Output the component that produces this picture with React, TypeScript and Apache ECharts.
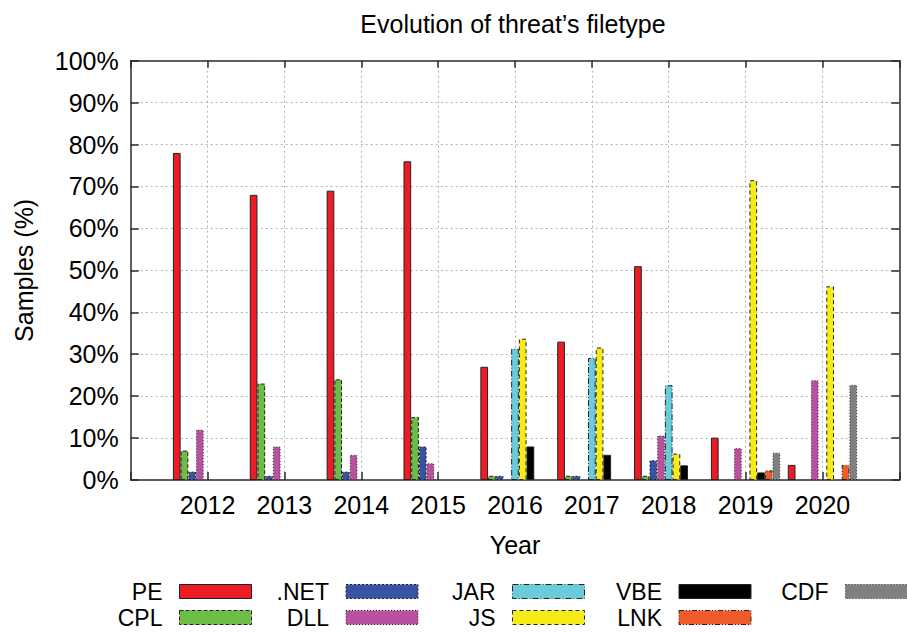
import React, { useEffect, useRef } from "react";
import * as echarts from "echarts";

const years = [2012, 2013, 2014, 2015, 2016, 2017, 2018, 2019, 2020];
const seriesNames = ["PE", "CPL", ".NET", "DLL", "JAR", "JS", "VBE", "LNK", "CDF"];
const PE = [78, 68, 69, 76, 27, 33, 51, 10.1, 3.6];
const CPL = [7, 23, 24, 15, 1, 1, 1, 0, 0];
const NET = [2, 1, 2, 8, 1, 1, 4.7, 0, 0];
const DLL = [12, 8, 6, 4, 0, 0, 10.6, 7.6, 23.8];
const JAR = [0, 0, 0, 0, 31.3, 29.1, 22.6, 0, 0];
const JS = [0, 0, 0, 0, 33.7, 31.6, 6.3, 71.5, 46.2];
const VBE = [0, 0, 0, 0, 8, 6, 3.5, 1.8, 0];
const LNK = [0, 0, 0, 0, 0, 0, 0, 2.3, 3.6];
const CDF = [0, 0, 0, 0, 0, 0, 0, 6.5, 22.7];
const yTicks = [0, 10, 20, 30, 40, 50, 60, 70, 80, 90, 100];

const values = [PE, CPL, NET, DLL, JAR, JS, VBE, LNK, CDF];
const colors = ["#ed1c24", "#6cbd45", "#3853a4", "#b8519f", "#6acbdb", "#f4eb18", "#000000", "#f15a29", "#808080"];
const borderTypes: any[] = ["solid", [4, 2], [2, 2], [1, 2], [6, 2, 1, 2], [4, 3], "solid", [5, 2, 1, 2, 1, 2], [1, 2]];
const legendCol = [0, 0, 1, 1, 2, 2, 3, 3, 4];
const legendRow = [0, 1, 0, 1, 0, 1, 0, 1, 0];

const FONT = "Liberation Sans";

export default function App() {
  const ref = useRef<HTMLDivElement>(null);
  useEffect(() => {
    document.body.style.margin = "0";
    const chart = echarts.init(ref.current!, null, { renderer: "svg" });
    const frameColor = "#2a2a2a";
    const gridLine = { show: true, lineStyle: { color: "#b4b4b4", type: [2, 3] as any, width: 1 }, showMinLine: false, showMaxLine: false };
    const W = 907;
    const swatchRight0 = 252;
    const colStep = 166.5;
    const legends = seriesNames.map((name, i) => ({
      orient: "horizontal",
      align: "right",
      right: W - (swatchRight0 + legendCol[i] * colStep),
      top: legendRow[i] === 0 ? 580 : 606,
      padding: 0,
      itemWidth: 72,
      itemHeight: 14,
      selectedMode: false,
      textStyle: { fontFamily: FONT, fontSize: 23, lineHeight: 23, color: "#000", padding: [0, 12, 0, 0] },
      data: [
        {
          name,
          icon: "rect",
          itemStyle: { color: colors[i], borderColor: "#222", borderWidth: 1, borderType: borderTypes[i] },
        },
      ],
    }));
    const option: any = {
      animation: false,
      backgroundColor: "#fff",
      title: {
        text: "Evolution of threat\u2019s filetype",
        left: 508,
        textAlign: "center",
        top: 6,
        textStyle: { fontFamily: FONT, fontSize: 25, fontWeight: "normal", color: "#000" },
      },
      legend: legends,
      grid: { left: 130.7, right: 7.7, top: 60.7, bottom: 152, containLabel: false },
      xAxis: [
        {
          type: "value",
          min: 2011,
          max: 2021,
          interval: 1,
          position: "bottom",
          name: "Year",
          nameLocation: "middle",
          nameGap: 52,
          nameTextStyle: { fontFamily: FONT, fontSize: 25, color: "#000" },
          axisLine: { show: true, onZero: false, lineStyle: { color: frameColor, width: 1.5 } },
          axisTick: { show: true, inside: true, length: 8, lineStyle: { color: frameColor, width: 1.5 } },
          axisLabel: {
            margin: 12,
            fontFamily: FONT,
            fontSize: 25,
            color: "#000",
            formatter: (v: number) => (v === 2011 || v === 2021 ? "" : String(v)),
          },
          splitLine: gridLine,
        },
        {
          type: "value",
          min: 2011,
          max: 2021,
          interval: 1,
          position: "top",
          axisLine: { show: true, onZero: false, lineStyle: { color: frameColor, width: 1.5 } },
          axisTick: { show: true, inside: true, length: 7, lineStyle: { color: frameColor, width: 1.5 } },
          axisLabel: { show: false },
          splitLine: { show: false },
        },
      ],
      yAxis: [
        {
          type: "value",
          min: yTicks[0],
          max: yTicks[yTicks.length - 1],
          interval: 10,
          position: "left",
          name: "Samples (%)",
          nameLocation: "middle",
          nameRotate: 90,
          nameGap: 94,
          nameTextStyle: { fontFamily: FONT, fontSize: 25, color: "#000" },
          axisLine: { show: true, lineStyle: { color: frameColor, width: 1.5 } },
          axisTick: { show: true, inside: true, length: 8, lineStyle: { color: frameColor, width: 1.5 } },
          axisLabel: { margin: 12, fontFamily: FONT, fontSize: 25, color: "#000", formatter: "{value}%" },
          splitLine: gridLine,
        },
        {
          type: "value",
          min: yTicks[0],
          max: yTicks[yTicks.length - 1],
          interval: 10,
          position: "right",
          axisLine: { show: true, lineStyle: { color: frameColor, width: 1.5 } },
          axisTick: { show: true, inside: true, length: 8, lineStyle: { color: frameColor, width: 1.5 } },
          axisLabel: { show: false },
          splitLine: { show: false },
        },
      ],
      series: seriesNames.map((name, i) => ({
        name,
        type: "bar",
        xAxisIndex: 0,
        yAxisIndex: 0,
        barWidth: 7.7,
        barGap: "0%",
        itemStyle: { color: colors[i], borderColor: "#222", borderWidth: 1, borderType: borderTypes[i] },
        emphasis: { disabled: true },
        data: years.map((y, j) => [y, values[i][j] === 0 ? null : values[i][j]]),
      })),
    };
    chart.setOption(option);
    return () => chart.dispose();
  }, []);
  return <div ref={ref} style={{ width: 907, height: 632 }} />;
}
